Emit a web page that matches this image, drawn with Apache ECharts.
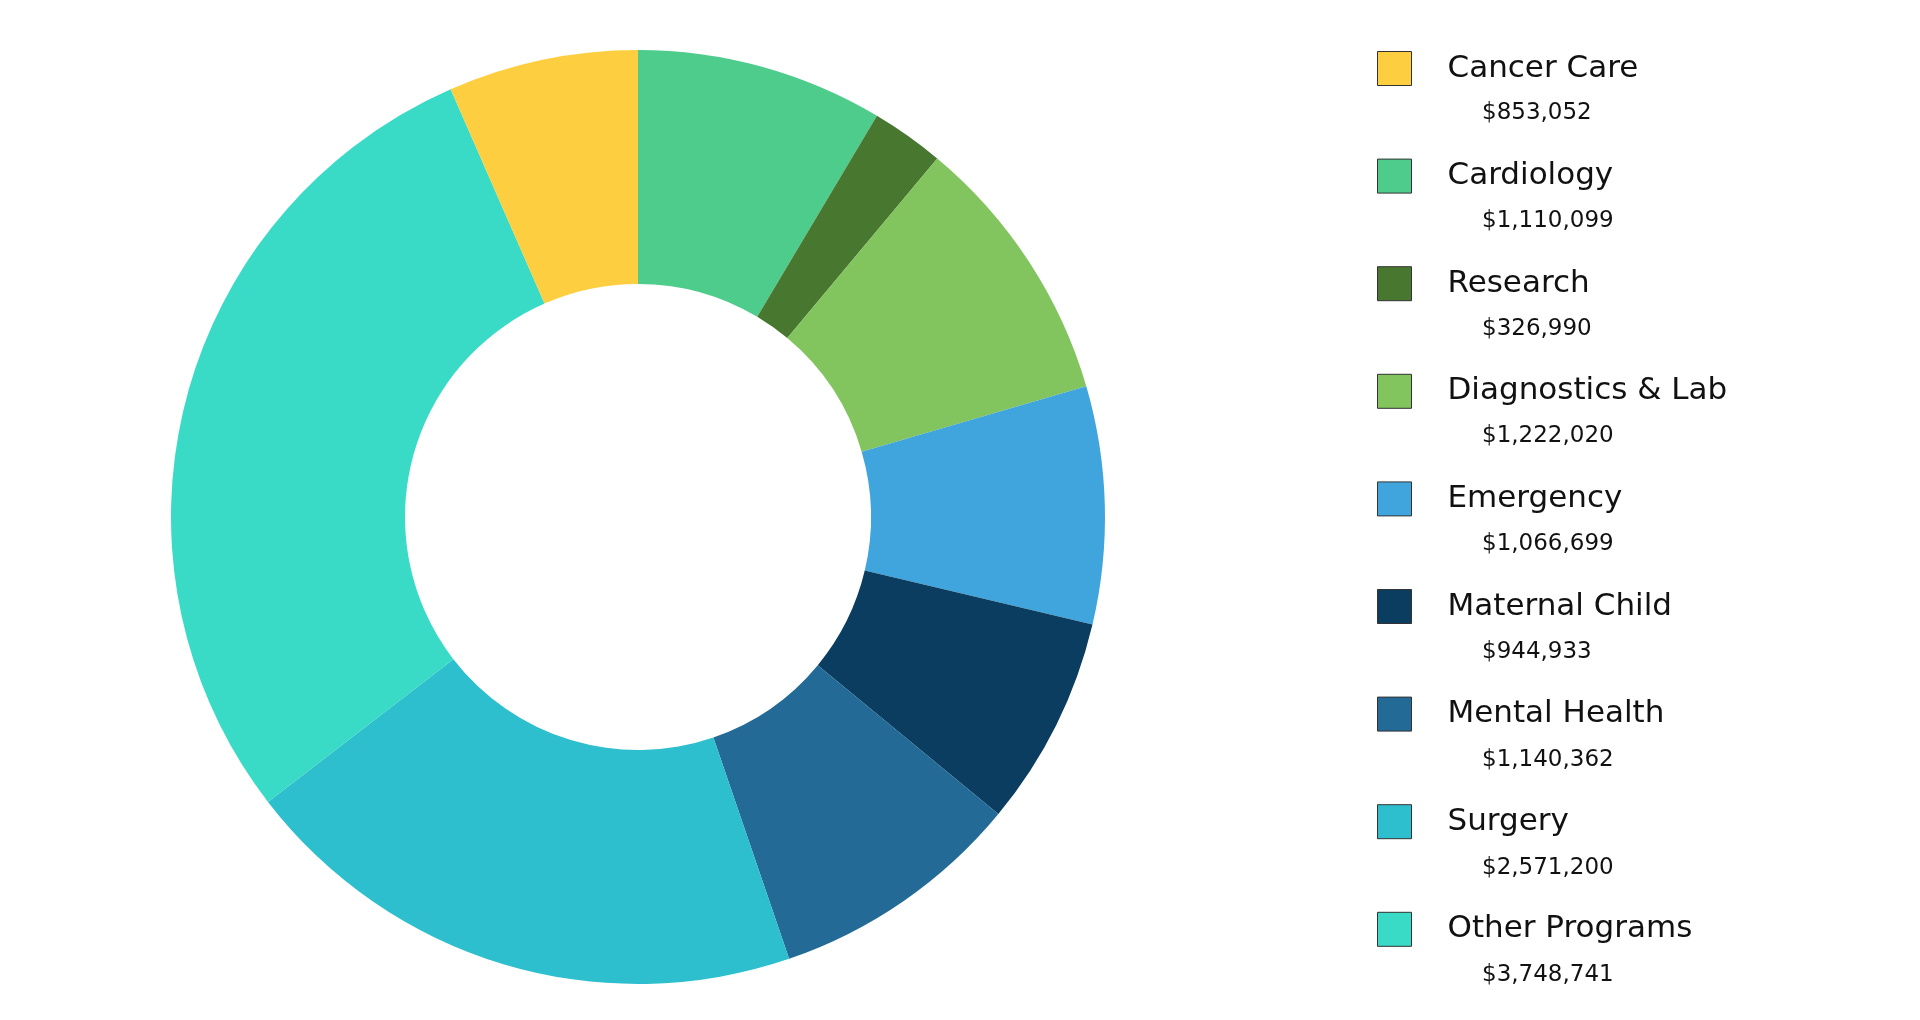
<!DOCTYPE html>
<html>
<head>
<meta charset="utf-8">
<script src="https://cdn.jsdelivr.net/npm/echarts@6/dist/echarts.min.js"></script>
<style>
html,body{margin:0;padding:0;background:#fff;}
#chart{width:1920px;height:1020px;}
</style>
</head>
<body>
<div id="chart"></div>
<script>
// Slice order (clockwise from 12 o'clock)
const categories = ['Cardiology','Research','Diagnostics & Lab','Emergency','Maternal Child','Mental Health','Surgery','Other Programs','Cancer Care'];
const values = [1110099, 326990, 1222020, 1066699, 944933, 1140362, 2571200, 3748741, 853052];
const colors = ['#4DCC8C','#487730','#82C45E','#40A5DC','#0A3D5F','#236A97','#2DBFCD','#39DBC6','#FDCF40'];
// Legend order
const legendOrder = ['Cancer Care','Cardiology','Research','Diagnostics & Lab','Emergency','Maternal Child','Mental Health','Surgery','Other Programs'];

const fmt = v => '$' + v.toLocaleString('en-US');
const valueByName = {};
categories.forEach((c, i) => { valueByName[c] = values[i]; });

const chart = echarts.init(document.getElementById('chart'));
chart.setOption({
  backgroundColor: '#ffffff',
  animation: false,
  legend: [
    {
      orient: 'vertical',
      left: 1377,
      top: 51,
      padding: 0,
      itemWidth: 34,
      itemHeight: 34,
      itemGap: 72.6,
      selectedMode: false,
      data: legendOrder,
      icon: 'rect',
      itemStyle: { borderColor: '#333333', borderWidth: 1 },
      textStyle: { fontFamily: 'DejaVu Sans', fontSize: 31, color: '#111111', lineHeight: 34, padding: [0, 0, 0, 31] }
    },
    {
      orient: 'vertical',
      left: 1476,
      top: 96,
      padding: 0,
      itemWidth: 1,
      itemHeight: 34,
      itemGap: 73.8,
      selectedMode: false,
      data: legendOrder,
      icon: 'rect',
      itemStyle: { opacity: 0 },
      formatter: name => fmt(valueByName[name]),
      textStyle: { fontFamily: 'DejaVu Sans', fontSize: 23, color: '#111111', lineHeight: 34 }
    }
  ],
  series: [{
    type: 'pie',
    center: [638, 517],
    radius: [233, 467],
    startAngle: 90,
    clockwise: true,
    label: { show: false },
    labelLine: { show: false },
    itemStyle: { borderWidth: 0 },
    emphasis: { disabled: true },
    data: categories.map((c, i) => ({ name: c, value: values[i], itemStyle: { color: colors[i] } }))
  }]
});
</script>
</body>
</html>
